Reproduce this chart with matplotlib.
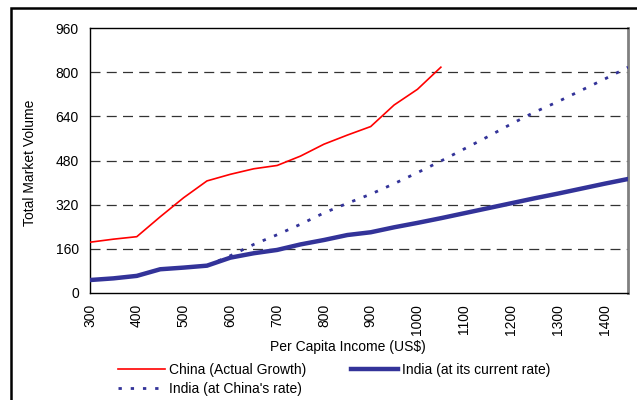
import matplotlib
matplotlib.use("Agg")
import matplotlib.pyplot as plt
from matplotlib.patches import Rectangle

plt.rcParams['font.family'] = ['Liberation Sans', 'DejaVu Sans']

income = [300, 350, 400, 450, 500, 550, 600, 650, 700, 750, 800, 850, 900,
          950, 1000, 1050, 1100, 1150, 1200, 1250, 1300, 1350, 1400, 1450]
china = [184, 195, 204, 276, 345, 406, 430, 450, 462, 496, 539, 572, 603,
         681, 738, 818]
india_current = [47, 53, 62, 86, 92, 99, 128, 144, 156, 176, 192, 210, 220,
                 238, 254, 271, 289, 307, 325, 343, 360, 378, 396, 413]
india_china_rate = [99, 135, 176, 211, 249, 290, 325, 358, 396, 436, 478,
                    522, 566, 612, 655, 693, 734, 775, 818]
yticks = [0, 160, 320, 480, 640, 800, 960]
xticks = [300, 400, 500, 600, 700, 800, 900, 1000, 1100, 1200, 1300, 1400]

FS = 10
fig = plt.figure(figsize=(6.37, 4.0), dpi=100)
W, H = 637, 400
ax = fig.add_axes([90 / W, 1 - 293 / H, (628 - 90) / W, (293 - 28) / H])

blue = '#333399'
ax.plot(income[:len(china)], china, color='#FF0000', lw=1.2,
        label='China (Actual Growth)', zorder=3)
ax.plot(income[5:5 + len(india_china_rate)], india_china_rate, color=blue,
        lw=2.0, linestyle=(0, (1.2, 3.2)), label="India (at China's rate)",
        zorder=3)
ax.plot(income, india_current, color=blue, lw=3.2,
        label='India (at its current rate)', zorder=4)

ax.set_xlim(300, 1450)
ax.set_ylim(0, 960)
ax.set_yticks(yticks)
ax.set_xticks(xticks)
ax.set_xticklabels([str(t) for t in xticks], rotation=90)
ax.tick_params(axis='y', length=0, labelsize=FS, pad=8)
ax.tick_params(axis='x', length=0, labelsize=FS, pad=8)
for v in yticks[1:-1]:
    ax.axhline(v, color='#333333', lw=0.9, linestyle=(0, (8, 5)), zorder=1)

for s in ['left', 'bottom', 'top']:
    ax.spines[s].set_color('black')
    ax.spines[s].set_linewidth(1.0)
ax.spines['right'].set_color('#808080')
ax.spines['right'].set_linewidth(2.0)

ax.set_ylabel('Total Market Volume', fontsize=FS)
ax.yaxis.set_label_coords((30 - 90) / 538, 0.49)
ax.set_xlabel('Per Capita Income (US$)', fontsize=FS)
ax.xaxis.set_label_coords((348 - 90) / 538, -(347 - 293) / 265)
ax.xaxis.label.set_va('center')
ax.yaxis.label.set_va('center')

h, l = ax.get_legend_handles_labels()
fig.legend(h, l, ncol=2, loc='upper left', bbox_to_anchor=(118 / W, 1 - 363 / H),
           frameon=False, fontsize=FS, handlelength=3.4, handletextpad=0.3,
           columnspacing=3.2, labelspacing=0.35, borderaxespad=0, borderpad=0)

fig.add_artist(Rectangle((11 / W, -0.1), 1.2, 1 - 8 / H + 0.1,
                         transform=fig.transFigure, fill=False,
                         edgecolor='black', lw=1.8))

fig.savefig('out.png', dpi=100)
